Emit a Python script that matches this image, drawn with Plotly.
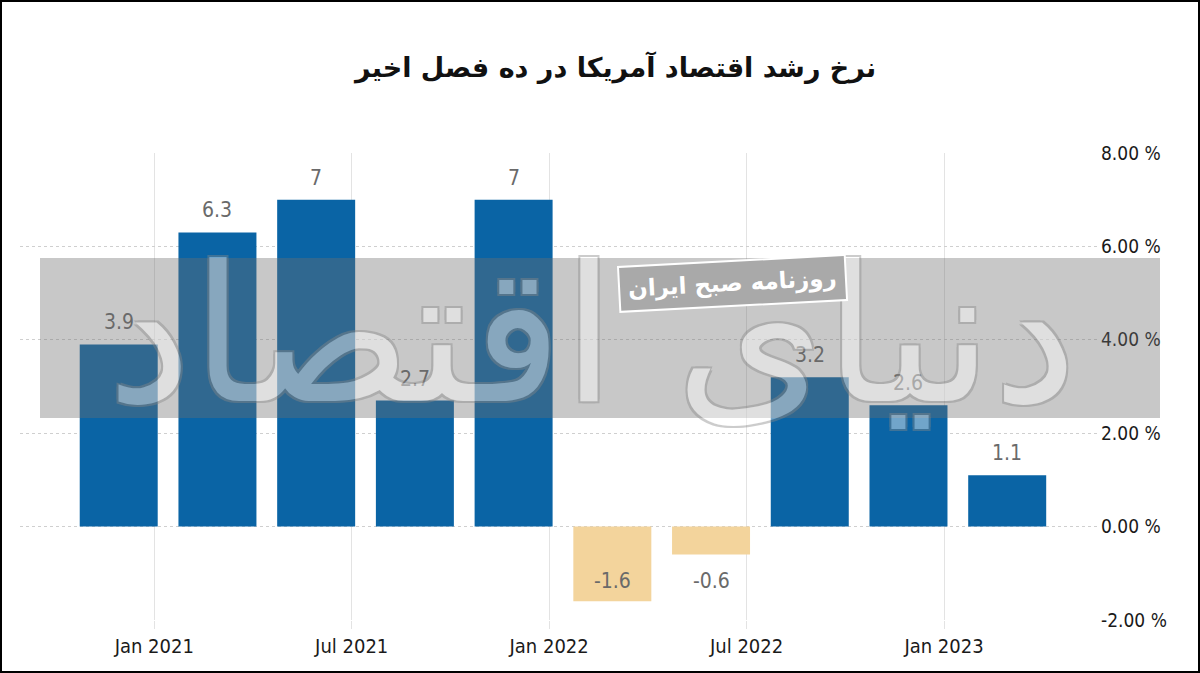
import plotly.graph_objects as go

# رشد فصلی اقتصاد آمریکا (درصد)
quarters = ["Q4 2020", "Q1 2021", "Q2 2021", "Q3 2021", "Q4 2021",
            "Q1 2022", "Q2 2022", "Q3 2022", "Q4 2022", "Q1 2023"]
growth = [3.9, 6.3, 7.0, 2.7, 7.0, -1.6, -0.6, 3.2, 2.6, 1.1]

tick_labels = ["Jan 2021", "Jul 2021", "Jan 2022", "Jul 2022", "Jan 2023"]
tick_after = ["Q4 2020", "Q2 2021", "Q4 2021", "Q2 2022", "Q4 2022"]
y_ticks = [-2, 0, 2, 4, 6, 8]

title_text = "نرخ رشد اقتصاد آمریکا در ده فصل اخیر"
stamp_text = "روزنامه صبح ایران"
logo_text = "دنیای اقتصاد"

BLUE = "#0a64a5"
TAN = "#f3d49c"
TICK_FONT = "Liberation Sans Narrow, DejaVu Sans Condensed, sans-serif"

x_pos = list(range(len(quarters)))
tickvals = [quarters.index(q) + 0.36 for q in tick_after]

fig = go.Figure()
fig.add_trace(go.Bar(
    x=x_pos, y=growth,
    width=0.79,
    marker=dict(color=[BLUE if v >= 0 else TAN for v in growth], line=dict(width=0)),
    hovertext=quarters,
    showlegend=False,
))

# برچسب مقادیر روی ستون‌ها
labels = []
for xi, v in zip(x_pos, growth):
    txt = f"{v:g}"
    if v >= 0:
        labels.append(dict(x=xi, y=v, text=txt, yanchor="bottom", yshift=8))
    elif v < -1:
        labels.append(dict(x=xi, y=v, text=txt, yanchor="bottom", yshift=6))
    else:
        labels.append(dict(x=xi, y=v, text=txt, yanchor="top", yshift=-12))
for a in labels:
    a.update(xref="x", yref="y", showarrow=False, xanchor="center",
             font=dict(family=TICK_FONT, size=21, color="#6a6a6a"))

fig.update_layout(
    width=1200, height=673,
    margin=dict(l=20, r=100, t=153, b=53),
    paper_bgcolor="white",
    plot_bgcolor="white",
    title=dict(text=title_text, x=0.513, xanchor="center", y=1 - 68 / 673,
               yanchor="middle", yref="container",
               font=dict(family="DejaVu Sans", size=27, color="#111111", weight="bold")),
    xaxis=dict(
        range=[-1.0, 9.94],
        tickmode="array", tickvals=tickvals, ticktext=tick_labels,
        showgrid=True, gridcolor="#e3e3e3", gridwidth=1,
        ticks="outside", ticklen=8, tickcolor="#e3e3e3",
        zeroline=False, showline=False,
        tickfont=dict(family=TICK_FONT, size=20, color="#1a1a1a"),
    ),
    yaxis=dict(
        range=[-2, 8], side="right",
        tickmode="array", tickvals=y_ticks,
        ticktext=[f"{v:.2f} %" for v in y_ticks],
        showgrid=True, gridcolor="#cfcfcf", gridwidth=1, griddash="dot",
        zeroline=False, showline=False, ticks="",
        tickfont=dict(family=TICK_FONT, size=19, color="#1a1a1a"),
    ),
    annotations=labels + [
        dict(text=logo_text, xref="paper", yref="paper", x=0.53, y=0.61,
             xanchor="center", yanchor="middle",
             showarrow=False, opacity=0.42,
             font=dict(family="DejaVu Sans", size=190, color="white",
                       shadow="2px 2px 0 #888, -2px -2px 0 #888, 2px -2px 0 #888, -2px 2px 0 #888")),
        dict(text=stamp_text, xref="paper", yref="paper",
             x=(732 - 20) / 1080, y=(620 - 283) / 467,
             xanchor="center", yanchor="middle",
             showarrow=False, textangle=-3,
             bgcolor="#a9a9a9", bordercolor="white", borderwidth=2, borderpad=8,
             font=dict(family="DejaVu Sans", size=23, color="white", weight="bold")),
    ],
    shapes=[
        dict(type="rect", xref="paper", yref="paper", layer="above",
             x0=(40 - 20) / 1080, x1=(1160 - 20) / 1080,
             y0=(620 - 418) / 467, y1=(620 - 258) / 467,
             fillcolor="rgba(110,110,110,0.38)", line=dict(width=0)),
        dict(type="rect", xref="paper", yref="paper", layer="above",
             x0=(1 - 20) / 1080, x1=(1199 - 20) / 1080,
             y0=(620 - 672) / 467, y1=(620 - 1) / 467,
             line=dict(color="black", width=2)),
    ],
)

fig.write_html("out.html", config={"displayModeBar": False},
               post_script="document.body.style.margin='0';")
